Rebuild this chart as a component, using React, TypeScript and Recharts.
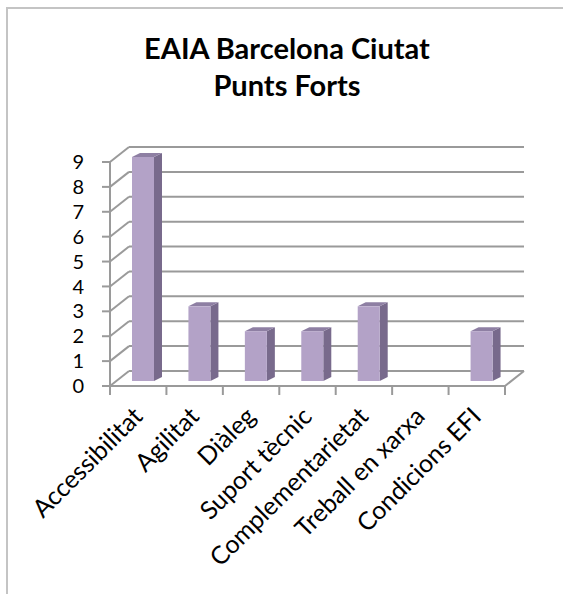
import { BarChart, Bar, XAxis, YAxis, CartesianGrid } from 'recharts'

const categories = [
  'Accessibilitat',
  'Agilitat',
  'Diàleg',
  'Suport tècnic',
  'Complementarietat',
  'Treball en xarxa',
  'Condicions EFI',
]
const counts = [9, 3, 2, 2, 3, 0, 2]
const yTicks = [0, 1, 2, 3, 4, 5, 6, 7, 8, 9]
const titleLines = ['EAIA Barcelona Ciutat', 'Punts Forts']

const data = categories.map((name, i) => ({ name, value: counts[i] }))

const FONT = 'Lato, "Open Sans", sans-serif'
const GRID = '#9a9a9a'
// depth of the 3d walls
const DX = 19
const DY = -15

const WallLine = (p: any) => {
  const { x1, y1, x2 } = p
  const isFloor = p.height != null && p.y != null ? Math.abs(y1 - (p.y + p.height)) < 1 : p.index === 0
  return (
    <g key={p.key}>
      <line x1={x1} y1={y1} x2={x1 + DX} y2={y1 + DY} stroke={GRID} strokeWidth={2} />
      <line x1={x1 + DX} y1={y1 + DY} x2={x2 + DX} y2={y1 + DY} stroke={GRID} strokeWidth={2} />
      {isFloor && (
        <>
          <line x1={x1} y1={y1} x2={x2} y2={y1} stroke={GRID} strokeWidth={2} />
          <line x1={x2} y1={y1} x2={x2 + DX} y2={y1 + DY} stroke={GRID} strokeWidth={2} />
        </>
      )}
    </g>
  )
}

const Bar3D = (p: any) => {
  const { x, y, width: w, height: h } = p
  if (!h || h <= 0) return <g />
  const fx = x + 5
  const fy = y - 5
  const d = 8
  const u = 4
  return (
    <g>
      <polygon
        points={`${fx + w},${fy} ${fx + w + d},${fy - u} ${fx + w + d},${fy + h - u} ${fx + w},${fy + h}`}
        fill="#786a8c"
      />
      <polygon
        points={`${fx},${fy} ${fx + d},${fy - u} ${fx + w + d},${fy - u} ${fx + w},${fy}`}
        fill="#8e7fa3"
      />
      <rect x={fx} y={fy} width={w} height={h} fill="#b3a2c7" />
    </g>
  )
}

const CatTick = (p: any) => {
  const { x, y, payload, index } = p
  const half = payload?.offset ?? 28.2
  const last = index === categories.length - 1
  const lx = x + 6
  const ly = y + 32
  return (
    <g>
      <line x1={x - half} y1={y} x2={x - half} y2={y + 9} stroke={GRID} strokeWidth={2} />
      {last && <line x1={x + half} y1={y} x2={x + half} y2={y + 9} stroke={GRID} strokeWidth={2} />}
      <text
        x={lx}
        y={ly}
        textAnchor="end"
        transform={`rotate(-45, ${lx}, ${ly})`}
        fontSize={25}
        fontFamily={FONT}
        fill="#000"
      >
        {payload.value}
      </text>
    </g>
  )
}

export default function App() {
  return (
    <div style={{ position: 'absolute', left: 0, top: 0, width: 563, height: 594, background: '#fff', overflow: 'hidden' }}>
      <div
        style={{
          position: 'absolute', left: 6, top: 7, right: -10, bottom: -10,
          borderLeft: '2px solid #c4c4c4', borderTop: '2px solid #c4c4c4',
        }}
      />
      <div
        style={{
          position: 'absolute', left: 0, width: 574, top: 29, textAlign: 'center',
          fontFamily: FONT, fontWeight: 700, fontSize: 29, lineHeight: '37px', color: '#000',
        }}
      >
        {titleLines.map((t) => <div key={t}>{t}</div>)}
      </div>
      <div style={{ position: 'absolute', left: 0, top: 0 }}>
        <BarChart
          width={563}
          height={594}
          data={data}
          margin={{ top: 162, right: 58, left: 50, bottom: 58 }}
        >
          <CartesianGrid vertical={false} horizontal={WallLine} />
          <XAxis
            dataKey="name"
            interval={0}
            height={150}
            tickLine={false}
            axisLine={false}
            tickSize={0}
            tickMargin={0}
            tick={<CatTick />}
          />
          <YAxis
            domain={[0, 9]}
            ticks={yTicks}
            interval={0}
            width={60}
            tickSize={8}
            tickMargin={18}
            axisLine={{ stroke: GRID, strokeWidth: 2 }}
            tickLine={{ stroke: GRID, strokeWidth: 2 }}
            tick={{ fill: '#000', fontSize: 20, fontFamily: FONT }}
          />
          <Bar dataKey="value" barSize={22} shape={<Bar3D />} isAnimationActive={false} />
        </BarChart>
      </div>
    </div>
  )
}
